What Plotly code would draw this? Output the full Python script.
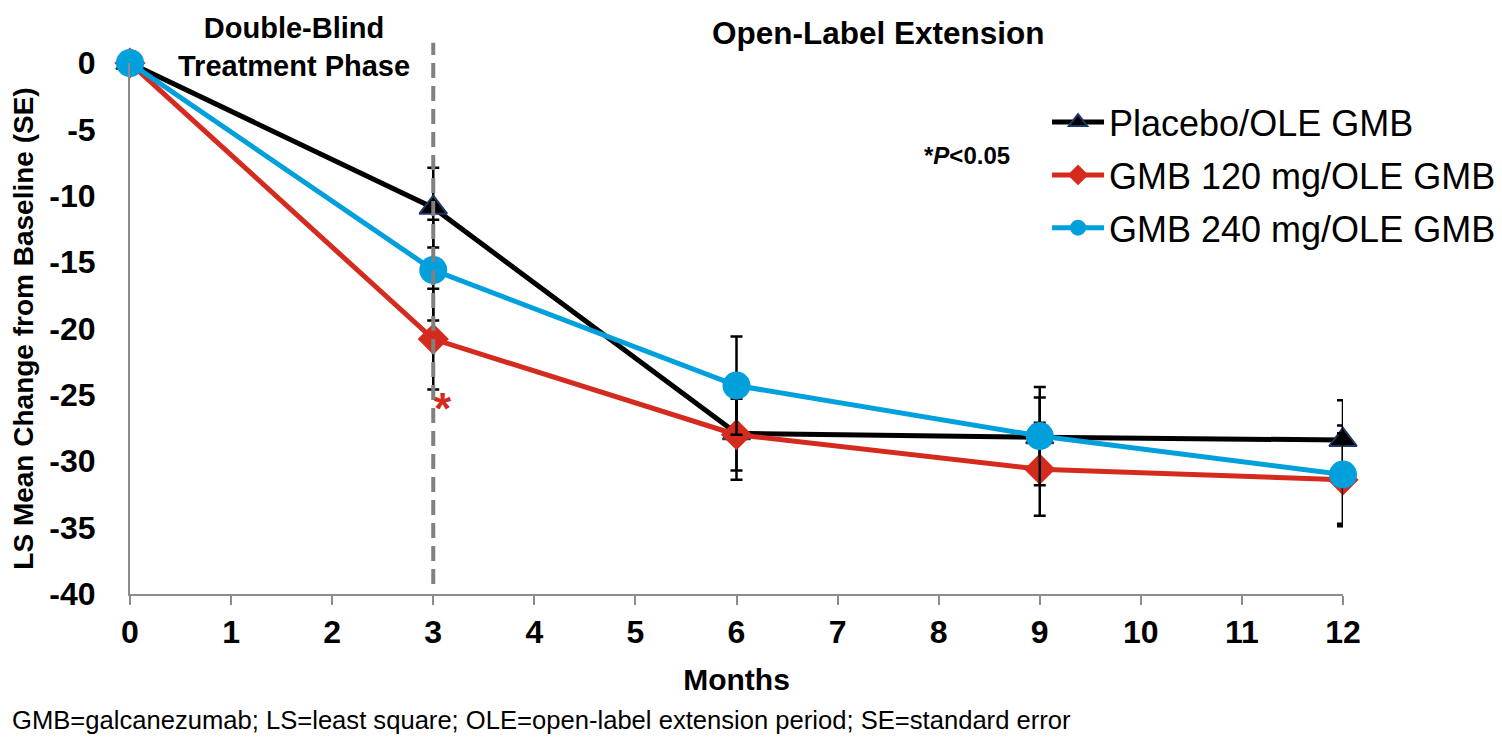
import plotly.graph_objs as go

months = [0, 3, 6, 9, 12]

placebo = [0, -10.9, -27.9, -28.2, -28.4]
placebo_se = [0, 3.0, 3.5, 3.0, 3.0]

gmb120 = [0, -20.8, -28.0, -30.6, -31.4]
gmb120_se = [0, 3.8, 2.7, 3.5, 3.5]

gmb240 = [0, -15.6, -24.3, -28.1, -31.0]
gmb240_se = [0, 3.8, 3.7, 3.7, 3.7]

x_ticks = list(range(13))
y_ticks = [0, -5, -10, -15, -20, -25, -30, -35, -40]
y_tick_labels = ["0", "-5", "-10", "-15", "-20", "-25", "-30", "-35", "-40"]

FONT = "Arial, Liberation Sans, sans-serif"
AXIS_GRAY = "#8c8c8c"


def err(se):
    return dict(type="data", array=se, visible=True, color="black", thickness=2.5, width=6)


fig = go.Figure()
fig.add_trace(go.Scatter(
    x=months, y=placebo, name="Placebo/OLE GMB", legendgroup="a",
    mode="lines+markers",
    line=dict(color="black", width=5),
    marker=dict(symbol="triangle-up", size=24, color="black",
                line=dict(color="#1f3864", width=2)),
    error_y=err(placebo_se),
    cliponaxis=False,
))
fig.add_trace(go.Scatter(
    x=months, y=gmb120, name="GMB 120 mg/OLE GMB", legendgroup="b",
    mode="lines+markers",
    line=dict(color="#d52b1e", width=5),
    marker=dict(symbol="diamond", size=24, color="#d52b1e"),
    error_y=err(gmb120_se),
    cliponaxis=False,
))
fig.add_trace(go.Scatter(
    x=months, y=gmb240, name="GMB 240 mg/OLE GMB", legendgroup="c",
    mode="lines+markers",
    line=dict(color="#00a0dc", width=5),
    marker=dict(symbol="circle", size=28, color="#00a0dc"),
    error_y=err(gmb240_se),
    cliponaxis=False,
))

# пунктир - конец двойного слепого периода
fig.add_shape(type="line", xref="x", yref="paper", x0=3, x1=3, y0=0.019, y1=1.038,
              line=dict(color="#808080", width=4, dash="15px,8px"), layer="above")

# подписи фаз исследования
fig.add_annotation(x=1.62, y=1.1, xref="x", yref="paper",
                   text="<b>Double-Blind</b><br><b>Treatment Phase</b>",
                   showarrow=False, yanchor="top",
                   font=dict(family=FONT, size=29, color="black"))
fig.add_annotation(x=7.4, y=1.056, xref="x", yref="paper", text="<b>Open-Label Extension</b>",
                   showarrow=False, yanchor="middle",
                   font=dict(family=FONT, size=31.5, color="black"))

fig.add_annotation(x=8.28, y=-7.0, xref="x", yref="y", text="<b>*<i>P</i><0.05</b>",
                   showarrow=False, font=dict(family=FONT, size=24, color="black"))
fig.add_annotation(x=3.1, y=-26.0, xref="x", yref="y", text="<b>*</b>",
                   showarrow=False, font=dict(family=FONT, size=44, color="#d52b1e"))

fig.add_annotation(x=0, y=0, xref="paper", yref="paper", xanchor="left", yanchor="bottom",
                   text="GMB=galcanezumab; LS=least square; OLE=open-label extension period; SE=standard error",
                   showarrow=False, xshift=-120, yshift=-142,
                   font=dict(family=FONT, size=25.6, color="black"))

# страница сдвинута на ~7px (поля body), поэтому размеры чуть меньше окна
fig.update_layout(
    width=1494, height=733,
    margin=dict(l=122, r=159, t=55, b=147, autoexpand=False),
    paper_bgcolor="white", plot_bgcolor="white",
    font=dict(family=FONT, color="black"),
    showlegend=True,
    legend=dict(x=0.756, y=0.945, xanchor="left", yanchor="top",
                font=dict(family=FONT, size=36, color="black"),
                itemwidth=52, tracegroupgap=3, bgcolor="rgba(0,0,0,0)"),
    xaxis=dict(range=[0, 12], tickmode="array", tickvals=x_ticks,
               ticktext=[f"<b>{m}</b>" for m in x_ticks],
               showgrid=False, zeroline=False, automargin=False,
               showline=True, linecolor=AXIS_GRAY, linewidth=2,
               ticks="outside", ticklen=9, tickwidth=2, tickcolor=AXIS_GRAY,
               tickfont=dict(family=FONT, size=32, color="black"),
               title=dict(text="<b>Months</b>", font=dict(family=FONT, size=30, color="black"),
                          standoff=20)),
    yaxis=dict(range=[-40, 0], tickmode="array", tickvals=y_ticks,
               ticktext=[f"<b>{t}</b>" for t in y_tick_labels],
               showgrid=False, zeroline=False, automargin=False,
               showline=True, linecolor=AXIS_GRAY, linewidth=2,
               ticks="", ticklabelstandoff=26,
               tickfont=dict(family=FONT, size=32, color="black"),
               title=dict(text="<b>LS Mean Change from Baseline (SE)</b>",
                          font=dict(family=FONT, size=28, color="black"), standoff=14)),
)

fig.write_html("out.html")
